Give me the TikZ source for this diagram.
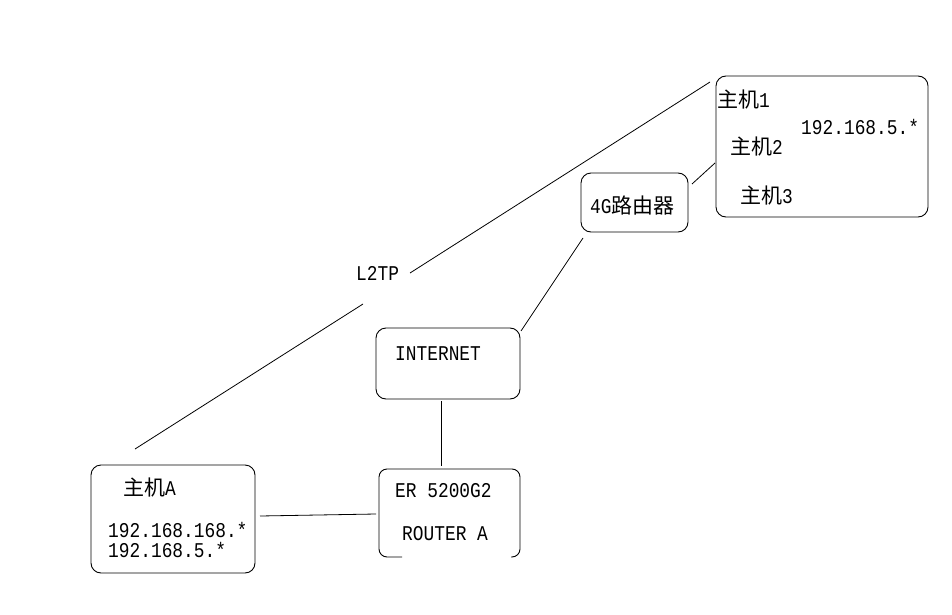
\documentclass[tikz,border=0pt]{standalone}
\usepackage{fontspec}
\setmainfont{Liberation Mono}[FakeStretch=0.85]
\newfontfamily\cjk{Noto Sans CJK SC}
\begin{document}
\begin{tikzpicture}[x=1pt,y=-1pt,
  box/.style={draw, rounded corners=10pt, line width=0.9pt, inner sep=0pt},
  lbl/.style={anchor=base west, inner sep=0pt, font=\fontsize{21}{24}\selectfont},
  conn/.style={line width=0.8pt}]
\useasboundingbox (0,0) rectangle (952,615);
% boxes
\node[box, minimum width=212pt, minimum height=141pt] (hosts) at (822,146.5) {};
\node[box, minimum width=107pt, minimum height=59pt] (router4g) at (634.5,202.5) {};
\node[box, minimum width=144pt, minimum height=71pt] (internet) at (448,363.5) {};
\node[inner sep=0pt, minimum width=141pt, minimum height=88pt] (er) at (449.5,513) {};
\node[box, minimum width=164pt, minimum height=108pt] (hostA) at (173,519) {};
% ER box outline with gap in bottom edge
\draw[line width=0.9pt, rounded corners=8pt] (402,557) -- (379,557) -- (379,469) -- (520,469) -- (520,557) -- (511,557);
% texts
\node[lbl] (t1) at (717,108) {{\cjk 主机}1};
\node[lbl] (tnet) at (801,134) {192.168.5.*};
\node[lbl] (t2) at (730,154) {{\cjk 主机}2};
\node[lbl] (t3) at (740,203) {{\cjk 主机}3};
\node[lbl] (t4g) at (590,213) {4G{\cjk 路由器}};
\node[lbl] (tl2tp) at (356,280) {L2TP};
\node[lbl] (tinet) at (395,360) {INTERNET};
\node[lbl] (ter) at (395,497) {ER 5200G2};
\node[lbl] (trouter) at (402,540) {ROUTER A};
\node[lbl] (tA) at (123,495) {{\cjk 主机}A};
\node[lbl] (tA1) at (108,537) {192.168.168.*};
\node[lbl] (tA2) at (108,557) {192.168.5.*};
% connector end points
\coordinate (a1) at (135,449);
\coordinate (a2) at (363,304);
\coordinate (b1) at (410,273);
\coordinate (b2) at (710,82);
\coordinate (c1) at (692,184);
\coordinate (c2) at (715,163);
\coordinate (d1) at (521,331);
\coordinate (d2) at (583,238);
\coordinate (e1) at (441,401);
\coordinate (e2) at (441,466);
\coordinate (f1) at (260,516);
\coordinate (f2) at (376,514);
% connectors
\draw[conn] (a1) -- (a2);
\draw[conn] (b1) -- (b2);
\draw[conn] (c1) -- (c2);
\draw[conn] (d1) -- (d2);
\draw[conn] (e1) -- (e2);
\draw[conn] (f1) -- (f2);
\end{tikzpicture}
\end{document}
